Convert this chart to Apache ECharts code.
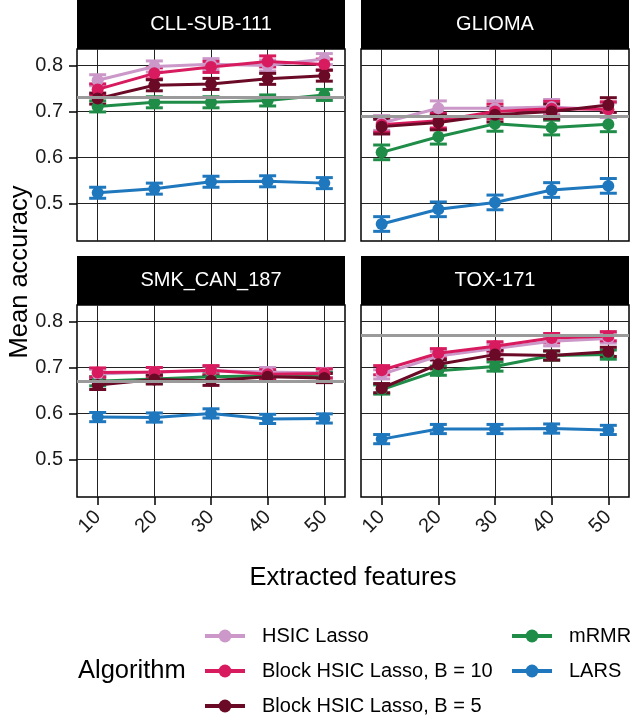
<!DOCTYPE html>
<html>
<head>
<meta charset="utf-8">
<script src="https://cdn.jsdelivr.net/npm/echarts@6/dist/echarts.min.js"></script>
<style>
html,body{margin:0;padding:0;background:#fff;}
#chart{width:630px;height:715px;}
</style>
</head>
<body>
<div id="chart"></div>
<script>
// ---------- data ----------
const features = [10, 20, 30, 40, 50];
const datasets = ['CLL-SUB-111', 'GLIOMA', 'SMK_CAN_187', 'TOX-171'];
const algorithms = ['HSIC Lasso', 'Block HSIC Lasso, B = 10', 'Block HSIC Lasso, B = 5', 'mRMR', 'LARS'];
const yTicks = [0.5, 0.6, 0.7, 0.8];

// mean accuracy, one row per dataset (same order as datasets)
const hsicLasso = [
  [0.768, 0.798, 0.803, 0.800, 0.814],
  [0.675, 0.707, 0.707, 0.710, 0.703],
  [0.686, 0.690, 0.693, 0.690, 0.688],
  [0.685, 0.725, 0.741, 0.757, 0.763]
];
const blockB10 = [
  [0.748, 0.783, 0.797, 0.809, 0.802],
  [0.671, 0.680, 0.700, 0.706, 0.705],
  [0.689, 0.690, 0.694, 0.685, 0.687],
  [0.694, 0.731, 0.746, 0.764, 0.768]
];
const blockB5 = [
  [0.728, 0.757, 0.760, 0.771, 0.778],
  [0.667, 0.676, 0.693, 0.700, 0.714],
  [0.662, 0.674, 0.671, 0.680, 0.677],
  [0.655, 0.707, 0.728, 0.726, 0.734]
];
const mrmr = [
  [0.711, 0.720, 0.720, 0.724, 0.736],
  [0.611, 0.645, 0.673, 0.665, 0.672],
  [0.670, 0.675, 0.680, 0.682, 0.680],
  [0.652, 0.693, 0.702, 0.726, 0.728]
];
const lars = [
  [0.523, 0.532, 0.547, 0.548, 0.544],
  [0.455, 0.487, 0.502, 0.529, 0.538],
  [0.592, 0.591, 0.600, 0.588, 0.589],
  [0.544, 0.566, 0.566, 0.567, 0.564]
];
// half-width of error bars, one value per dataset
const errHalf = [0.012, 0.016, 0.010, 0.010];
// grey reference line per dataset
const baselines = [0.734, 0.689, 0.673, 0.765];

const seriesValues = [hsicLasso, blockB10, blockB5, mrmr, lars];
const colors = ['#cb98c9', '#d81b5e', '#6b0a26', '#1f8c48', '#1f77bd'];
const drawOrder = [4, 3, 0, 1, 2];

// ---------- layout ----------
const FONT = '"Liberation Sans", Arial, Helvetica, sans-serif';
const panels = [
  {left: 77, top: 49, width: 268, height: 192},
  {left: 361, top: 49, width: 268, height: 192},
  {left: 77, top: 305, width: 268, height: 192},
  {left: 361, top: 305, width: 268, height: 192}
];
const stripH = 49;

const grid = [], xAxis = [], yAxis = [], series = [], graphic = [];
panels.forEach((p, d) => {
  grid.push({left: p.left, top: p.top, width: p.width, height: p.height,
    show: true, borderColor: '#000', borderWidth: 1.5, backgroundColor: '#fff'});
  const bottom = d >= 2, left = d % 2 === 0;
  xAxis.push({
    type: 'value', gridIndex: d, min: 6.35, max: 53.65,
    axisLine: {show: false},
    axisTick: {show: bottom, length: 8, lineStyle: {color: '#000', width: 1.5}, customValues: features},
    axisLabel: {show: bottom, customValues: features, rotate: 45, margin: 17, padding: [42, 0, 0, 0],
      fontSize: 20, fontFamily: FONT, color: '#1a1a1a'},
    splitLine: {show: true, lineStyle: {color: '#222', width: 1}}
  });
  yAxis.push({
    type: 'value', gridIndex: d, min: 0.418, max: 0.836,
    axisLine: {show: false},
    axisTick: {show: left, length: 8, lineStyle: {color: '#000', width: 1.5}, customValues: yTicks},
    axisLabel: {show: left, customValues: yTicks, margin: 14, fontSize: 20, fontFamily: FONT, color: '#1a1a1a',
      formatter: v => v.toFixed(1)},
    splitLine: {show: true, lineStyle: {color: '#222', width: 1}}
  });
  // strip
  graphic.push({type: 'rect', shape: {x: p.left, y: p.top - stripH, width: p.width, height: stripH},
    style: {fill: '#000'}, silent: true});
  graphic.push({type: 'text', x: p.left + p.width / 2, y: p.top - stripH / 2,
    style: {text: datasets[d], fill: '#fff', fontSize: 20, fontFamily: FONT, align: 'center', verticalAlign: 'middle'},
    silent: true});

  drawOrder.forEach((a, oi) => {
    const vals = seriesValues[a][d];
    const line = {
      type: 'line', name: algorithms[a], xAxisIndex: d, yAxisIndex: d,
      data: features.map((f, k) => [f, vals[k]]),
      symbol: 'circle', symbolSize: 12, showSymbol: true,
      lineStyle: {color: colors[a], width: 3},
      itemStyle: {color: colors[a]},
      emphasis: {disabled: true}, animation: false, z: 2
    };
    if (oi === 0) {
      line.markLine = {silent: true, symbol: 'none', label: {show: false}, animation: false,
        lineStyle: {color: '#9a9a9a', width: 3, type: 'solid'},
        data: [{yAxis: baselines[d]}]};
    }
    series.push(line);
    const e = errHalf[d];
    series.push({
      type: 'custom', name: algorithms[a], xAxisIndex: d, yAxisIndex: d,
      data: features.map((f, k) => [f, vals[k] - e, vals[k] + e]),
      encode: {x: 0, y: [1, 2]}, animation: false, z: 2, silent: true,
      renderItem: (params, api) => {
        const x = api.value(0), lo = api.value(1), hi = api.value(2);
        const pLo = api.coord([x, lo]), pHi = api.coord([x, hi]);
        const a1 = api.coord([x - 1.5, lo]), a2 = api.coord([x + 1.5, lo]);
        const b1 = api.coord([x - 1.5, hi]), b2 = api.coord([x + 1.5, hi]);
        const st = {stroke: colors[a], lineWidth: 3};
        return {type: 'group', children: [
          {type: 'line', shape: {x1: pLo[0], y1: pLo[1], x2: pHi[0], y2: pHi[1]}, style: st},
          {type: 'line', shape: {x1: a1[0], y1: a1[1], x2: a2[0], y2: a2[1]}, style: st},
          {type: 'line', shape: {x1: b1[0], y1: b1[1], x2: b2[0], y2: b2[1]}, style: st}
        ]};
      }
    });
  });
});

// axis titles / legend title
graphic.push({type: 'text', x: 20, y: 272, rotation: Math.PI / 2,
  style: {text: 'Mean accuracy', fontSize: 25.5, fontFamily: FONT, fill: '#000', align: 'center', verticalAlign: 'middle'}});
graphic.push({type: 'text', x: 353, y: 578,
  style: {text: 'Extracted features', fontSize: 25.5, fontFamily: FONT, fill: '#000', align: 'center', verticalAlign: 'middle'}});
graphic.push({type: 'text', x: 78, y: 671,
  style: {text: 'Algorithm', fontSize: 25.5, fontFamily: FONT, fill: '#000', align: 'left', verticalAlign: 'middle'}});

const legendCommon = {
  type: 'plain', orient: 'vertical', itemWidth: 40, itemHeight: 16, itemGap: 15, selectedMode: false,
  padding: 0, height: 130,
  textStyle: {fontSize: 20, fontFamily: FONT, color: '#000', padding: [0, 0, 0, 12]},
  lineStyle: {width: 4}, inactiveColor: '#ccc'
};

const option = {
  animation: false,
  backgroundColor: '#fff',
  grid, xAxis, yAxis, series, graphic,
  legend: [
    Object.assign({}, legendCommon, {left: 203, top: 626, data: algorithms.slice(0, 3)}),
    Object.assign({}, legendCommon, {left: 510, top: 626, data: algorithms.slice(3)})
  ]
};

const chart = echarts.init(document.getElementById('chart'), null, {renderer: 'canvas'});
chart.setOption(option);
</script>
</body>
</html>
